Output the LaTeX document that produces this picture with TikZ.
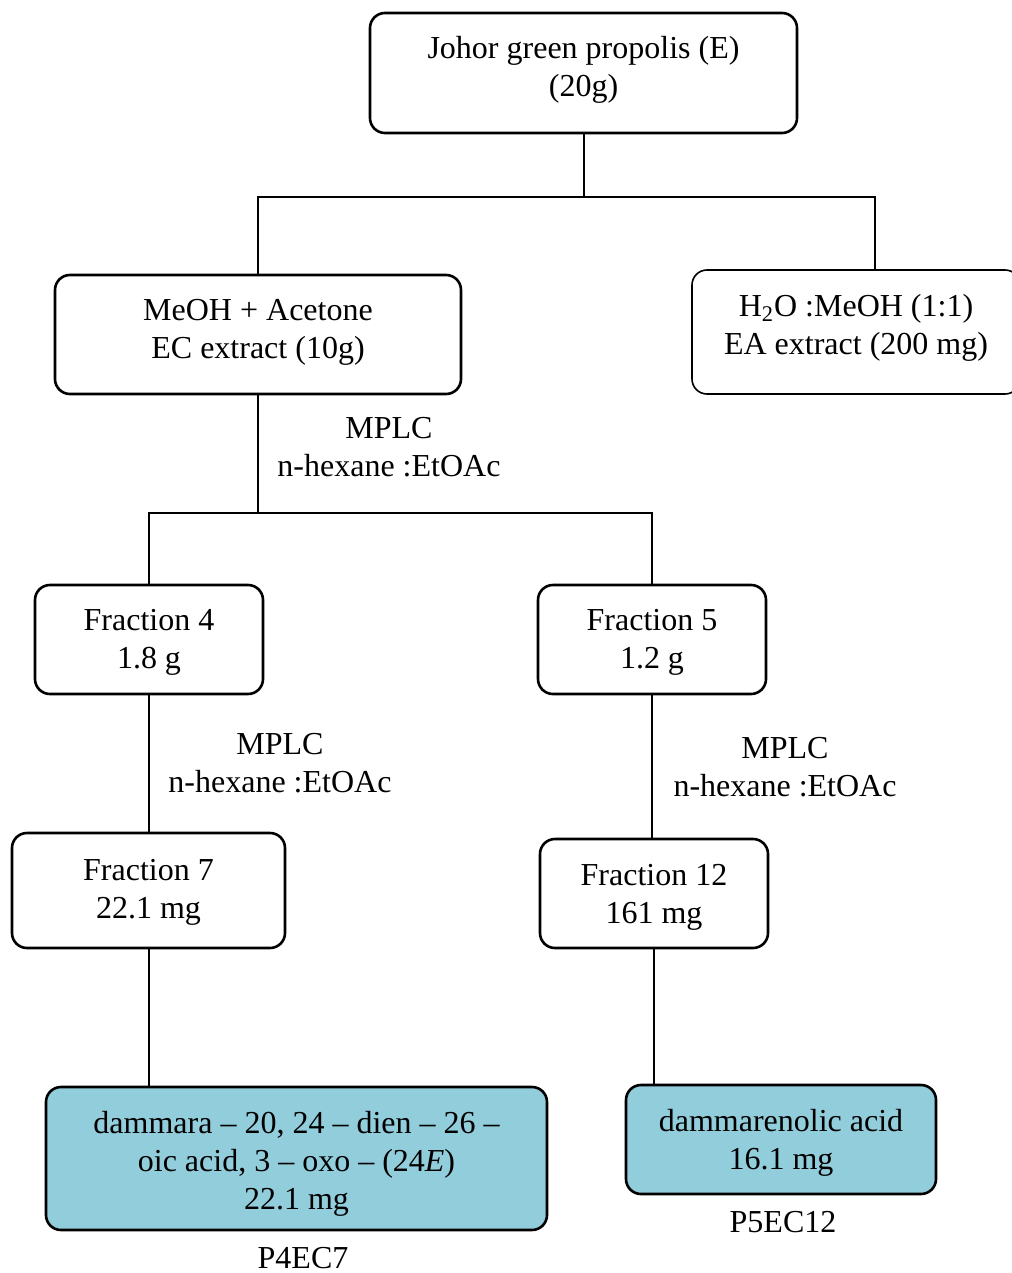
\documentclass[tikz,border=0pt]{standalone}
\usepackage{fontspec}
\setmainfont{Liberation Serif}
\definecolor{cyanfill}{RGB}{146,205,220}
\newcommand\shiftedtext[2]{\raisebox{#1}[\height][\depth]{\begin{tabular}{@{}c@{}}#2\end{tabular}}}
\begin{document}
\begin{tikzpicture}[x=0.5pt,y=-0.5pt,
 box/.style={draw, line width=1.3pt, rounded corners=7.5pt, align=center, inner sep=0pt, font=\fontsize{16}{19}\selectfont},
 thinbox/.style={box, line width=0.8pt},
 result/.style={box, fill=cyanfill},
 lbl/.style={align=center, inner sep=0pt, font=\fontsize{16}{19}\selectfont},
 conn/.style={line width=1pt}]
\useasboundingbox (0,0) rectangle (1011,1273);

\node[box, minimum width=213.5pt, minimum height=60pt] (top) at (583.5,73) {\shiftedtext{1.5pt}{Johor green propolis (E)\\(20g)}};
\node[box, minimum width=203pt, minimum height=59.5pt] (meoh) at (258,334.5) {\shiftedtext{1.5pt}{MeOH + Acetone\\EC extract (10g)}};
\node[thinbox, minimum width=164pt, minimum height=62pt] (h2o) at (856,332) {\shiftedtext{2pt}{H\textsubscript{2}O :MeOH (1:1)\\EA extract (200 mg)}};
\node[box, minimum width=114pt, minimum height=54.5pt] (f4) at (149,639.5) {\shiftedtext{-1pt}{Fraction 4\\1.8 g}};
\node[box, minimum width=114pt, minimum height=54.5pt] (f5) at (652,639.5) {\shiftedtext{-1pt}{Fraction 5\\1.2 g}};
\node[box, minimum width=136.5pt, minimum height=57.5pt] (f7) at (148.5,890.5) {\shiftedtext{-0.5pt}{Fraction 7\\22.1 mg}};
\node[box, minimum width=114pt, minimum height=54.5pt] (f12) at (654,893.5) {\shiftedtext{-1.5pt}{Fraction 12\\161 mg}};
\node[result, minimum width=250.5pt, minimum height=71.5pt] (dam) at (296.5,1158.5) {\shiftedtext{-2.5pt}{dammara – 20, 24 – dien – 26 –\\oic acid, 3 – oxo – (24\textit{E})\\22.1 mg}};
\node[result, minimum width=155pt, minimum height=54.5pt] (dml) at (781,1139.5) {\shiftedtext{-1.5pt}{dammarenolic acid\\16.1 mg}};

\node[lbl] (m1) at (389,447) {MPLC\\n-hexane :EtOAc};
\node[lbl] (m2) at (280,763) {MPLC\\n-hexane :EtOAc};
\node[lbl] (m3) at (785,767) {MPLC\\n-hexane :EtOAc};
\node[lbl] (p4) at (303,1258) {P4EC7};
\node[lbl] (p5) at (783,1222) {P5EC12};

\coordinate (j1) at (583.5,197);
\coordinate (hr) at (875,197);
\coordinate (j2) at (258,513);
\draw[conn] (top.south) -- (j1);
\draw[conn] (meoh.north) |- (hr) -- (hr |- h2o.north);
\draw[conn] (meoh.south) -- (j2);
\draw[conn] (f4.north) |- (j2) -| (f5.north);
\draw[conn] (f4.south) -- (f4.south |- f7.north);
\draw[conn] (f5.south) -- (f5.south |- f12.north);
\draw[conn] (f7.south) -- (f7.south |- dam.north);
\draw[conn] (f12.south) -- (f12.south |- dml.north);
\end{tikzpicture}
\end{document}
